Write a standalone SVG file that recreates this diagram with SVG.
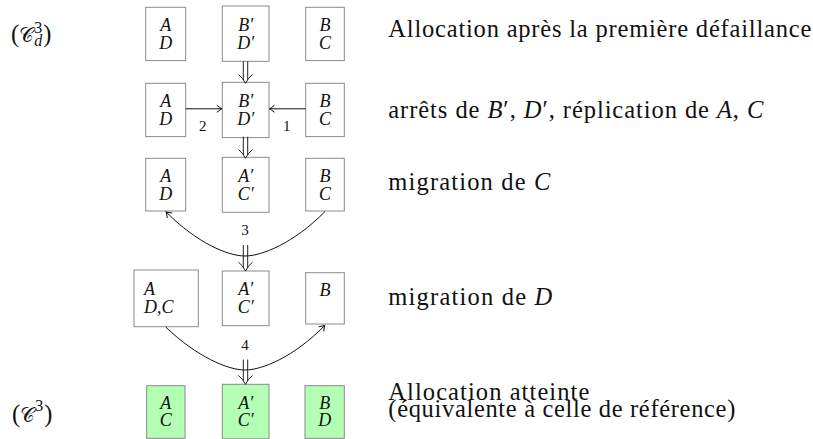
<svg xmlns="http://www.w3.org/2000/svg" width="813" height="439" viewBox="0 0 813 439" font-family="'Liberation Serif', serif">
<style>
.box{fill:#ffffff;stroke:#8a8a8a;stroke-width:1}
.green{fill:#b3ffb3}
.t{font-family:'Liberation Serif',serif;font-size:18px;font-style:italic;text-anchor:middle;fill:#111}
.tl{font-family:'Liberation Serif',serif;font-size:18px;font-style:italic;fill:#111}
.lbl{font-family:'Liberation Serif',serif;font-size:24.5px;fill:#111}
.it{font-style:italic}
.num{font-family:'Liberation Serif',serif;font-size:15px;text-anchor:middle;fill:#111}
.c{fill:none;stroke:#111;stroke-width:1}
.dbl{fill:none;stroke:#222;stroke-width:1}
</style>
<defs>
<marker id="tip" viewBox="-6 -5 8 10" markerWidth="8" markerHeight="10" refX="0" refY="0" orient="auto" markerUnits="userSpaceOnUse">
<path d="M -5,-3.5 Q -1.5,-0.8 0,0 Q -1.5,0.8 -5,3.5" fill="none" stroke="#111" stroke-width="1"/>
</marker>
</defs>

<g id="label-cd3">
<text class="lbl" x="11" y="41.5">(<tspan font-size="20">𝒞</tspan><tspan font-size="16" dy="-9">3</tspan><tspan font-size="16" font-style="italic" dx="-8" dy="13.5">d</tspan><tspan dx="1" dy="-4.5">)</tspan></text>
</g>
<g id="label-c3">
<text class="lbl" x="12" y="421.5">(<tspan font-size="20">𝒞</tspan><tspan font-size="16" dy="-10.5">3</tspan><tspan dx="1" dy="10.5">)</tspan></text>
</g>

<g id="r1-AD"><rect class="box" x="145.7" y="7.3" width="40" height="53.3"/><text class="t" x="165.7" y="31">A<tspan x="165.7" dy="17.5">D</tspan></text></g>
<g id="r1-BD"><rect class="box" x="222.3" y="6" width="46.7" height="55.3"/><text class="t" x="245.7" y="31">B′<tspan x="245.7" dy="17.5">D′</tspan></text></g>
<g id="r1-BC"><rect class="box" x="305.7" y="7.3" width="38.6" height="53.3"/><text class="t" x="325" y="31">B<tspan x="325" dy="17.5">C</tspan></text></g>

<g id="r2-AD"><rect class="box" x="145.7" y="83.3" width="40" height="53.3"/><text class="t" x="165.7" y="107">A<tspan x="165.7" dy="17.5">D</tspan></text></g>
<g id="r2-BD"><rect class="box" x="222.3" y="82.3" width="46.7" height="55.3"/><text class="t" x="245.7" y="107">B′<tspan x="245.7" dy="17.5">D′</tspan></text></g>
<g id="r2-BC"><rect class="box" x="305.7" y="83.3" width="38.6" height="53.3"/><text class="t" x="325" y="107">B<tspan x="325" dy="17.5">C</tspan></text></g>

<g id="r3-AD"><rect class="box" x="145.7" y="158.3" width="40" height="52.7"/><text class="t" x="165.7" y="182">A<tspan x="165.7" dy="17.5">D</tspan></text></g>
<g id="r3-AC"><rect class="box" x="222.3" y="157.3" width="46.7" height="55"/><text class="t" x="245.7" y="182">A′<tspan x="245.7" dy="17.5">C′</tspan></text></g>
<g id="r3-BC"><rect class="box" x="305.7" y="158.3" width="38.6" height="52.7"/><text class="t" x="325" y="182">B<tspan x="325" dy="17.5">C</tspan></text></g>

<g id="r4-ADC"><rect class="box" x="134" y="270" width="64.3" height="56.7"/><text class="tl" x="144" y="295">A<tspan x="144" dy="18">D</tspan><tspan style="font-style:normal">,</tspan>C</text></g>
<g id="r4-AC"><rect class="box" x="222.3" y="271" width="46.7" height="54.7"/><text class="t" x="245.7" y="295">A′<tspan x="245.7" dy="18">C′</tspan></text></g>
<g id="r4-B"><rect class="box" x="305.7" y="272.7" width="38.6" height="51.3"/><text class="t" x="325" y="296">B</text></g>

<g id="r5-AC"><rect class="box green" x="146.7" y="385.7" width="38.3" height="52.6"/><text class="t" x="165.8" y="408.5">A<tspan x="165.8" dy="17.5">C</tspan></text></g>
<g id="r5-AC2"><rect class="box green" x="222.3" y="384.3" width="46.7" height="54.5"/><text class="t" x="245.7" y="408.5">A′<tspan x="245.7" dy="17.5">C′</tspan></text></g>
<g id="r5-BD"><rect class="box green" x="305" y="385.7" width="39.3" height="52.6"/><text class="t" x="324.7" y="408.5">B<tspan x="324.7" dy="17.5">D</tspan></text></g>

<g id="desc">
<text class="lbl" x="388.3" y="36.7" textLength="423" lengthAdjust="spacing">Allocation après la première défaillance</text>
<text class="lbl" x="388.3" y="118.3" textLength="375" lengthAdjust="spacing">arrêts de <tspan class="it">B</tspan>′, <tspan class="it">D</tspan>′, réplication de <tspan class="it">A</tspan>, <tspan class="it">C</tspan></text>
<text class="lbl" x="388.3" y="190" textLength="162" lengthAdjust="spacing">migration de <tspan class="it">C</tspan></text>
<text class="lbl" x="388.3" y="305" textLength="164" lengthAdjust="spacing">migration de <tspan class="it">D</tspan></text>
<text class="lbl" x="388.3" y="400"><tspan textLength="201" lengthAdjust="spacing">Allocation atteinte</tspan><tspan x="388.3" dy="16.7" textLength="347" lengthAdjust="spacing">(équivalente à celle de référence)</tspan></text>
</g>

<g id="connectors">
<g class="dbl">
<path d="M243.3,61.3 V80 M247.7,61.3 V80 M238.5,74.5 Q243,78 245.5,83.3 Q248,78 252.5,74.5"/>
<path d="M243.3,136.7 V155 M247.7,136.7 V155 M238.5,149.5 Q243,153 245.5,158.3 Q248,153 252.5,149.5"/>
<path d="M243.3,245 V267.7 M247.7,245 V267.7 M238.5,262.2 Q243,265.7 245.5,271 Q248,265.7 252.5,262.2"/>
<path d="M243.3,359.5 V381 M247.7,359.5 V381 M238.5,375.5 Q243,379 245.5,384.3 Q248,379 252.5,375.5"/>
</g>
<path class="c" d="M185.7,108.8 H221.8" marker-end="url(#tip)"/>
<path class="c" d="M305.7,108.8 H269.5" marker-end="url(#tip)"/>
<text class="num" x="202.7" y="131">2</text>
<text class="num" x="286.7" y="131">1</text>
<path class="c" d="M325,211.5 C 294,243 262,256 245,256 C 228,256 197,243 166.2,212" marker-end="url(#tip)"/>
<text class="num" x="245" y="235">3</text>
<path class="c" d="M165.7,327 C 197,357 228,370 245,370 C 262,370 294,357 324.7,325.5" marker-end="url(#tip)"/>
<text class="num" x="245" y="350">4</text>
</g>
</svg>
